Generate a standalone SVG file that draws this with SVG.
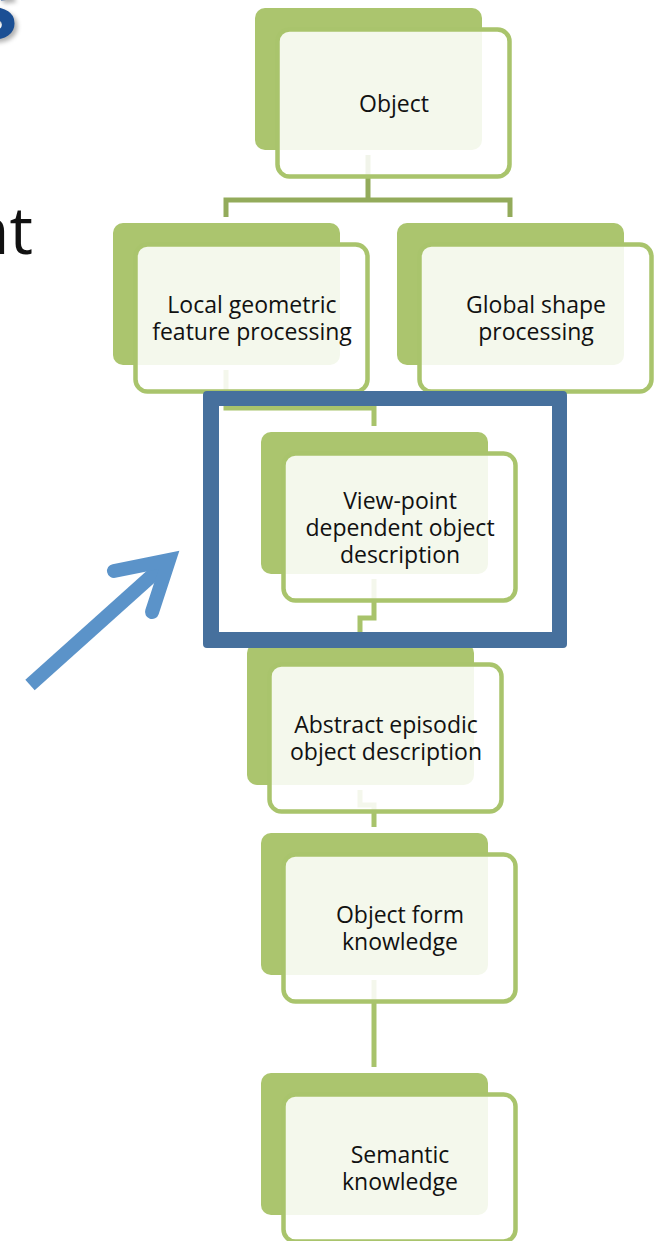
<svg xmlns="http://www.w3.org/2000/svg" width="655" height="1241" viewBox="0 0 655 1241">
  <style>
    .back { fill: #abc56e; }
    .front { fill: #ffffff; fill-opacity: 0.87; stroke: #a9c46c; stroke-width: 4.5; }
    .label { font-family: "Open Sans", "Noto Sans", sans-serif; font-size: 23px; fill: #111111; text-anchor: middle; }
    .link { fill: none; stroke-width: 5; stroke-linejoin: miter; }
    .link-top { stroke: #93ab5b; }
    .link-low { stroke: #a8c36b; }
  </style>
  <defs>
    <filter id="soft" x="-50%" y="-50%" width="200%" height="200%">
      <feGaussianBlur stdDeviation="2"/>
    </filter>
  </defs>

  <rect width="655" height="1241" fill="#ffffff"/>

  <!-- title fragments at the slide edge -->
  <g id="title-fragments">
    <text x="-34" y="42" font-family="Liberation Sans, sans-serif" font-weight="bold" font-size="100" fill="#000000" fill-opacity="0.3" filter="url(#soft)">s</text>
    <text x="-37" y="39" font-family="Liberation Sans, sans-serif" font-weight="bold" font-size="100" fill="#1b4f94">s</text>
    <text x="-31" y="254" font-family="Open Sans, sans-serif" font-size="66" fill="#111111">nt</text>
  </g>

  <!-- connectors (under the nodes) -->
  <g id="connectors">
    <path class="link link-top" d="M368,155 V200"/>
    <path class="link link-top" d="M226,217 V200 H510 V217"/>
    <path class="link link-low" d="M226,370 V408 H374 V426"/>
    <path class="link link-low" d="M374,579 V618 H360 V637"/>
    <path class="link link-low" d="M360,790 V805 H374 V827"/>
    <path class="link link-low" d="M374,980 V1067"/>
  </g>

  <g id="node-object">
    <rect class="back" x="255" y="8" width="227" height="142" rx="10"/>
    <rect class="front" x="277.5" y="29.5" width="232" height="147" rx="12"/>
    <text class="label" x="394" y="112">Object</text>
  </g>

  <g id="node-local">
    <rect class="back" x="113" y="223" width="227" height="142" rx="10"/>
    <rect class="front" x="135.5" y="244.5" width="232" height="147" rx="12"/>
    <text class="label" x="252" y="313">Local geometric</text>
    <text class="label" x="252" y="340">feature processing</text>
  </g>

  <g id="node-global">
    <rect class="back" x="397" y="223" width="227" height="142" rx="10"/>
    <rect class="front" x="419.5" y="244.5" width="232" height="147" rx="12"/>
    <text class="label" x="536" y="313">Global shape</text>
    <text class="label" x="536" y="340">processing</text>
  </g>

  <g id="node-viewpoint">
    <rect class="back" x="261" y="432" width="227" height="142" rx="10"/>
    <rect class="front" x="283.5" y="453.5" width="232" height="147" rx="12"/>
    <text class="label" x="400" y="508.5">View-point</text>
    <text class="label" x="400" y="535.5">dependent object</text>
    <text class="label" x="400" y="562.5">description</text>
  </g>

  <g id="node-abstract">
    <rect class="back" x="247" y="643" width="227" height="142" rx="10"/>
    <rect class="front" x="269.5" y="664.5" width="232" height="147" rx="12"/>
    <text class="label" x="386" y="733">Abstract episodic</text>
    <text class="label" x="386" y="760">object description</text>
  </g>

  <g id="node-form">
    <rect class="back" x="261" y="833" width="227" height="142" rx="10"/>
    <rect class="front" x="283.5" y="854.5" width="232" height="147" rx="12"/>
    <text class="label" x="400" y="923">Object form</text>
    <text class="label" x="400" y="950">knowledge</text>
  </g>

  <g id="node-semantic">
    <rect class="back" x="261" y="1073" width="227" height="142" rx="10"/>
    <rect class="front" x="283.5" y="1094.5" width="232" height="147" rx="12"/>
    <text class="label" x="400" y="1163">Semantic</text>
    <text class="label" x="400" y="1190">knowledge</text>
  </g>

  <!-- highlight frame around the view-point stage -->
  <g id="highlight-frame">
    <path fill="#46709d" fill-rule="evenodd"
          d="M207,391 H563 A4,4 0 0 1 567,395 V644 A4,4 0 0 1 563,648 H207 A4,4 0 0 1 203,644 V395 A4,4 0 0 1 207,391 Z
             M219,406 V632 H552 V406 Z"/>
  </g>

  <!-- pointer arrow -->
  <g id="pointer-arrow" fill="none" stroke="#5b93c9" stroke-width="14">
    <path d="M30,685 L166,563" stroke-linecap="butt"/>
    <path d="M114,571 L169,560 L152,612" stroke-linecap="round" stroke-linejoin="miter" stroke-miterlimit="6"/>
  </g>
</svg>
